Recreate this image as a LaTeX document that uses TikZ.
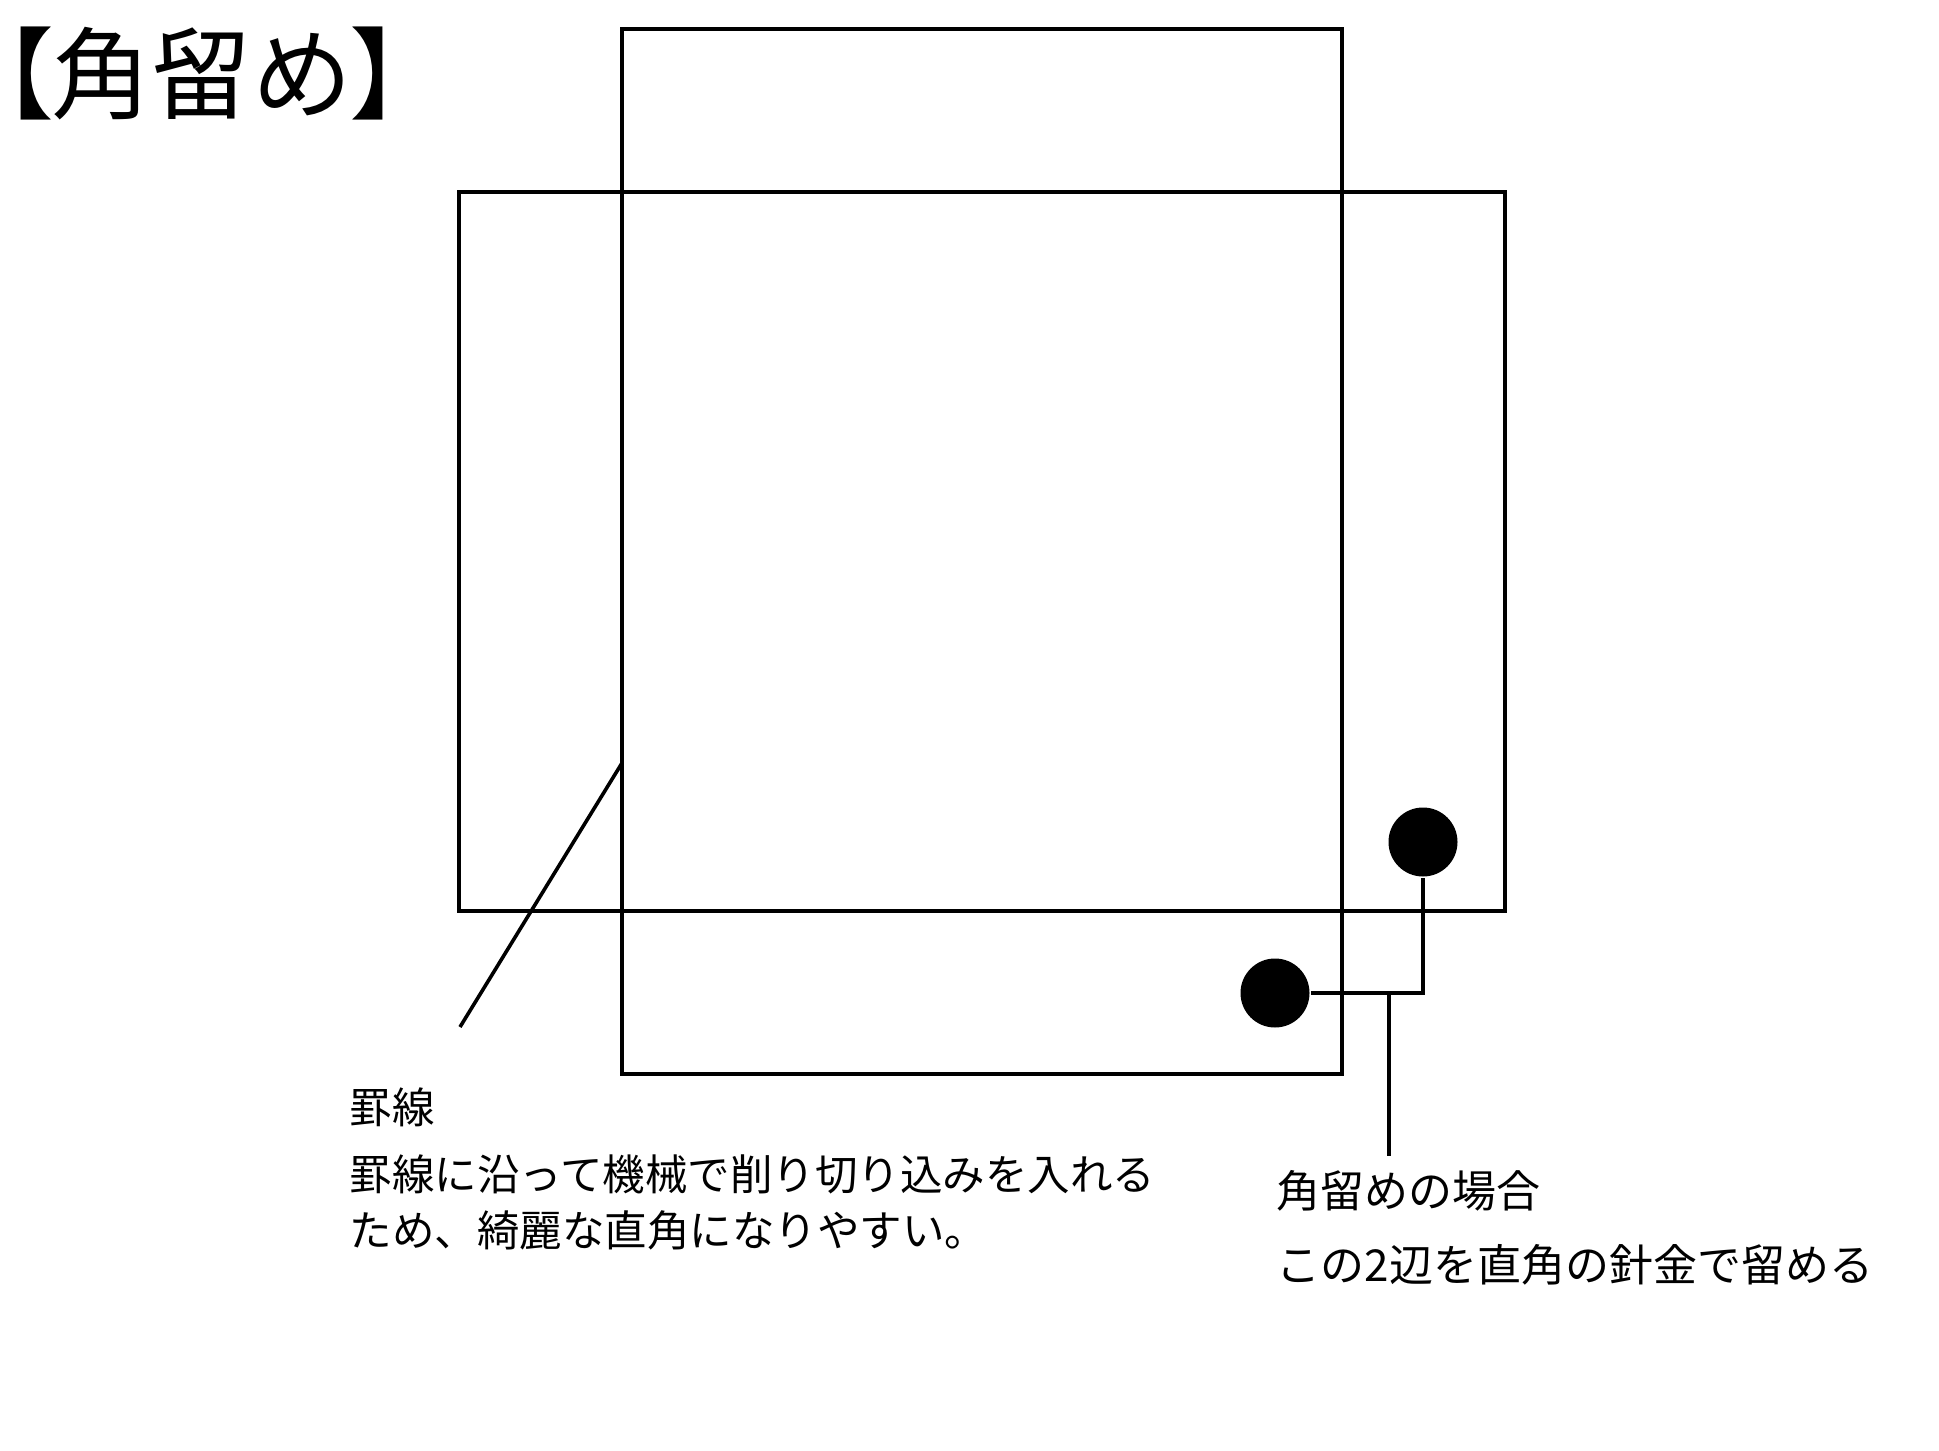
\documentclass[tikz,border=0pt]{standalone}
\usepackage{fontspec}
\newfontfamily\jpfont{Noto Sans CJK JP}
\newfontfamily\jptitlefont[RawFeature=+palt]{Noto Sans CJK JP}

\begin{document}
\begin{tikzpicture}[%
      x=0.5pt, y=-0.5pt,
      line width=1.8pt,
      notetext/.style={anchor=base west, inner sep=0pt, font=\jpfont\fontsize{21.25pt}{25pt}\selectfont},
      sidetext/.style={anchor=base west, inner sep=0pt, font=\jpfont\fontsize{22pt}{26pt}\selectfont},
      titletext/.style={anchor=base west, inner sep=0pt, font=\jptitlefont\fontsize{50pt}{58pt}\selectfont},
      wirepoint/.style={circle, fill=black, inner sep=0pt, minimum size=34.5pt},
      ]
      \useasboundingbox (0,0) rectangle (1939,1451);
      \draw [color=black] (622,29) rectangle (1342,1074);
      \draw [color=black] (459,192) rectangle (1505,911);

      \node [titletext] (title) at (0,111) {【角留め】};

      \coordinate (crease) at (622,763);
      \coordinate (creasetail) at (460,1027);
      \draw [color=black] (crease) -- (creasetail);

      \node [wirepoint] (pinup) at (1423,842) {};
      \node [wirepoint] (pindown) at (1275,993) {};
      \draw [color=black] (pindown.east) -| (pinup.south);
      \coordinate (join) at (1389,993);
      \coordinate (jointail) at (1389,1156);
      \draw [color=black] (join) -- (jointail);

      \node [notetext] (rule) at (348,1123) {罫線};
      \node [notetext] (ruleone) at (348,1190) {罫線に沿って機械で削り切り込みを入れる};
      \node [notetext] (ruletwo) at (348,1246) {ため、綺麗な直角になりやすい。};

      \node [sidetext] (corner) at (1275,1207) {角留めの場合};
      \node [sidetext] (cornerone) at (1275,1281) {この2辺を直角の針金で留める};
\end{tikzpicture}
\end{document}
